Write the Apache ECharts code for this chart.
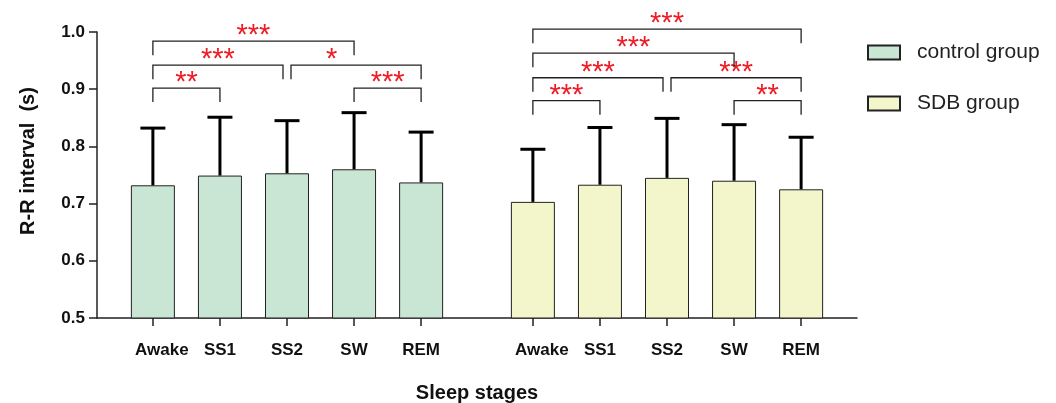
<!DOCTYPE html>
<html>
<head>
<meta charset="utf-8">
<script src="https://cdn.jsdelivr.net/npm/echarts@6/dist/echarts.min.js"></script>
<style>
html,body{margin:0;padding:0;background:#fff;}
#chart{width:1056px;height:403px;}
</style>
</head>
<body>
<div id="chart"></div>
<script>
// ---- data ----
const stages = ['Awake', 'SS1', 'SS2', 'SW', 'REM'];
const groupNames = ['control group', 'SDB group'];
const controlMean = [0.732, 0.749, 0.753, 0.760, 0.737];
const controlSD   = [0.100, 0.102, 0.092, 0.099, 0.088];
const sdbMean     = [0.703, 0.733, 0.745, 0.740, 0.725];
const sdbSD       = [0.092, 0.100, 0.104, 0.098, 0.091];
// significance brackets: [fromStage, toStage, level (s), stars, optional star position (stage units)]
const controlSig = [
  [0, 1, 0.902, '**'],
  [0, 2, 0.942, '***'],
  [2, 4, 0.942, '*', 2.71],
  [3, 4, 0.902, '***'],
  [0, 3, 0.984, '***']
];
const sdbSig = [
  [0, 1, 0.880, '***'],
  [0, 2, 0.920, '***'],
  [2, 4, 0.920, '***'],
  [3, 4, 0.880, '**'],
  [0, 3, 0.963, '***'],
  [0, 4, 1.005, '***']
];
const yTicks = { min: 0.5, max: 1.0, step: 0.1 };

// ---- layout of category slots (3 slots per stage, wider gap between groups) ----
const SLOTS = 34;
const groupStart = [2, 19];
const slotOf = (g, i) => groupStart[g] + 3 * i;
const cats = new Array(SLOTS).fill('');
const labeled = new Set();
stages.forEach((s, i) => {
  [0, 1].forEach(g => { cats[slotOf(g, i)] = s; labeled.add(slotOf(g, i)); });
});
const showAt = (idx) => labeled.has(idx);

function barData(g, means) {
  const arr = new Array(SLOTS).fill(null);
  means.forEach((m, i) => { arr[slotOf(g, i)] = m; });
  return arr;
}
const errData = [];
controlMean.forEach((m, i) => errData.push([slotOf(0, i), m, m + controlSD[i]]));
sdbMean.forEach((m, i) => errData.push([slotOf(1, i), m, m + sdbSD[i]]));

const sigRows = [];
controlSig.forEach(r => sigRows.push({ g: 0, r }));
sdbSig.forEach(r => sigRows.push({ g: 1, r }));
const sigData = sigRows.map(o => [slotOf(o.g, o.r[0]), slotOf(o.g, o.r[1]), o.r[2]]);

const FONT = '"Liberation Sans", Arial, Helvetica, sans-serif';
const AX = '#222';

const chart = echarts.init(document.getElementById('chart'));
chart.setOption({
  animation: false,
  backgroundColor: '#fff',
  grid: { left: 97, right: 199, top: 32, bottom: 85, containLabel: false, outerBoundsMode: 'none' },
  legend: {
    data: groupNames,
    orient: 'vertical',
    left: 867, top: 42, padding: 0,
    itemWidth: 32, itemHeight: 14, itemGap: 30,
    icon: 'rect',
    textStyle: { fontFamily: FONT, fontSize: 21, color: '#222', padding: [0, 0, 0, 12] }
  },
  xAxis: {
    type: 'category',
    data: cats,
    boundaryGap: true,
    axisLine: { lineStyle: { color: AX, width: 1.5 } },
    axisTick: { show: true, length: 8, alignWithLabel: true, interval: (i) => showAt(i), lineStyle: { color: AX, width: 1.5 } },
    axisLabel: {
      interval: (i) => showAt(i),
      margin: 24,
      fontFamily: FONT, fontSize: 17, fontWeight: 'bold', color: '#111',
      formatter: (v) => v === 'Awake' ? '{aw|Awake}' : v,
      rich: { aw: { fontFamily: FONT, fontSize: 17, fontWeight: 'bold', color: '#111', padding: [0, 0, 0, 18] } }
    },
    splitLine: { show: false },
    name: 'Sleep stages',
    nameLocation: 'middle',
    nameGap: 65,
    nameTextStyle: { fontFamily: FONT, fontSize: 20, fontWeight: 'bold', color: '#111' }
  },
  yAxis: {
    type: 'value',
    min: yTicks.min, max: yTicks.max, interval: yTicks.step,
    axisLine: { show: true, lineStyle: { color: AX, width: 1.5 } },
    axisTick: { show: true, length: 8, lineStyle: { color: AX, width: 1.5 } },
    axisLabel: { margin: 12, formatter: (v) => v.toFixed(1), fontFamily: FONT, fontSize: 17, fontWeight: 'bold', color: '#111' },
    splitLine: { show: false },
    name: 'R-R interval  (s)',
    nameLocation: 'middle',
    nameRotate: 90,
    nameGap: 59,
    nameTextStyle: { fontFamily: FONT, fontSize: 20, fontWeight: 'bold', color: '#111', padding: [0, 0, 0, 28] }
  },
  series: [
    {
      name: groupNames[0], type: 'bar', data: barData(0, controlMean),
      barWidth: 44, barGap: '-100%',
      itemStyle: { color: '#c9e6d4', borderColor: '#222', borderWidth: 1 }
    },
    {
      name: groupNames[1], type: 'bar', data: barData(1, sdbMean),
      barWidth: 44, barGap: '-100%',
      itemStyle: { color: '#f3f5cb', borderColor: '#222', borderWidth: 1 }
    },
    {
      name: 'sd', type: 'custom', data: errData, clip: false, z: 5,
      encode: { x: 0, y: [1, 2] },
      renderItem: (params, api) => {
        const x = api.value(0);
        const p0 = api.coord([x, api.value(1)]);
        const p1 = api.coord([x, api.value(2)]);
        const st = { stroke: '#000', lineWidth: 3, fill: null };
        return {
          type: 'group',
          children: [
            { type: 'line', shape: { x1: p0[0], y1: p0[1], x2: p1[0], y2: p1[1] }, style: st },
            { type: 'line', shape: { x1: p1[0] - 12.5, y1: p1[1], x2: p1[0] + 12.5, y2: p1[1] }, style: st }
          ]
        };
      }
    },
    {
      name: 'sig', type: 'custom', data: sigData, clip: false, z: 6,
      encode: { x: [0, 1], y: 2 },
      renderItem: (params, api) => {
        const o = sigRows[params.dataIndex];
        const [a, b, lvl, txt, at] = o.r;
        const others = sigRows.filter(q => q.g === o.g && q.r[2] === lvl && q !== o);
        const insetA = others.some(q => q.r[1] === a) ? 4 : 0;
        const insetB = others.some(q => q.r[0] === b) ? 4 : 0;
        const pA = api.coord([slotOf(o.g, a), lvl]);
        const pB = api.coord([slotOf(o.g, b), lvl]);
        const xa = pA[0] + insetA, xb = pB[0] - insetB, y = pA[1];
        let tx = (xa + xb) / 2;
        if (at !== undefined) tx = api.coord([slotOf(o.g, 0) + 3 * at, lvl])[0];
        return {
          type: 'group',
          children: [
            { type: 'polyline', shape: { points: [[xa, y + 14], [xa, y], [xb, y], [xb, y + 14]] },
              style: { stroke: '#222', lineWidth: 1.3, fill: null } },
            { type: 'text', style: { x: tx, y: y - 5, text: txt, fill: '#ee1c25',
              font: '29px ' + FONT, textAlign: 'center', textVerticalAlign: 'middle' } }
          ]
        };
      }
    }
  ]
});
</script>
</body>
</html>
